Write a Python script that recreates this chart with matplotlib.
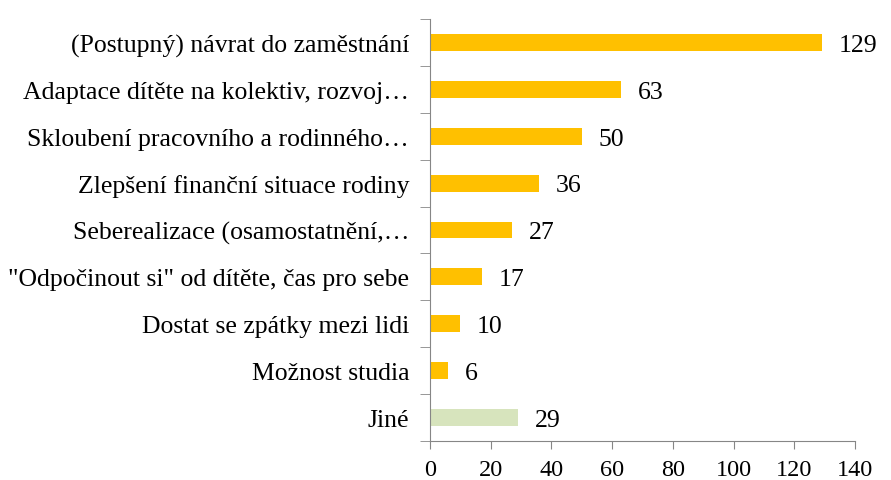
import numpy as np
import matplotlib.pyplot as plt

categories = ['(Postupný) návrat do zaměstnání',
              'Adaptace dítěte na kolektiv, rozvoj…',
              'Skloubení pracovního a rodinného…',
              'Zlepšení finanční situace rodiny',
              'Seberealizace (osamostatnění,…',
              '"Odpočinout si" od dítěte, čas pro sebe',
              'Dostat se zpátky mezi lidi',
              'Možnost studia',
              'Jiné']
values = [129, 63, 50, 36, 27, 17, 10, 6, 29]
colors = ['#FFC000'] * 8 + ['#D7E4BD']

plt.rcParams['font.family'] = ['Liberation Serif', 'DejaVu Serif']

fig = plt.figure(figsize=(8.91, 4.81), dpi=100)
ax = fig.add_axes([0.4826, 0.0811, 0.4770, 0.8773])

y = np.arange(len(categories))
ax.barh(y, values, height=0.36, color=colors)
for yi, v in zip(y, values):
    ax.text(v + 5.5, yi + 0.05, str(v), va='center', ha='left', fontsize=18.5)

ax.set_xlim(0, 140)
ax.set_ylim(len(categories) - 0.5, -0.5)
ax.set_xticks(range(0, 141, 20))
ax.set_yticks(y)
ax.set_yticklabels(categories, fontsize=18.5)
ax.set_yticks(np.arange(-0.5, len(categories), 1), minor=True)
ax.tick_params(axis='y', which='major', length=0, pad=15)
ax.tick_params(axis='y', which='minor', length=7, color='#868686')
ax.tick_params(axis='x', length=6, color='#868686', labelsize=17.5, pad=7)

for s in ['top', 'right']:
    ax.spines[s].set_visible(False)
for s in ['left', 'bottom']:
    ax.spines[s].set_color('#868686')

fig.savefig('out.png', dpi=100)
